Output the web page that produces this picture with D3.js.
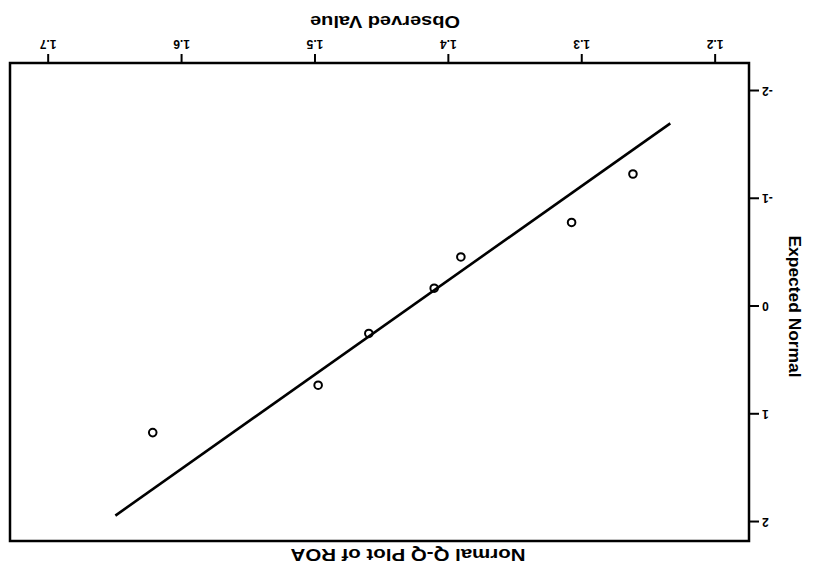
<!DOCTYPE html>
<meta charset="utf-8">
<style>
  body { margin: 0; background: #fff; }
  svg text { font-family: "Liberation Sans", Arial, sans-serif; font-weight: bold; fill: #000; }
</style>
<div id="chart"></div>
<script src="https://cdnjs.cloudflare.com/ajax/libs/d3/7.8.5/d3.min.js"></script>
<script>
var observed = [1.262, 1.308, 1.391, 1.411, 1.460, 1.498, 1.622];
var expected = [-1.23, -0.78, -0.46, -0.17, 0.25, 0.73, 1.17];
var lineObserved = [1.234, 1.650];
var lineExpected = [-1.70, 1.94];
var xTicks = [1.2, 1.3, 1.4, 1.5, 1.6, 1.7];
var yTicks = [-2, -1, 0, 1, 2];

var width = 818, height = 575;
var margin = {top: 34, right: 10, bottom: 63, left: 69};

var svg = d3.select("#chart").append("svg")
    .attr("width", width)
    .attr("height", height);

// the scan is upside down, so draw the normal chart and turn it 180 degrees
var g = svg.append("g")
    .attr("transform", "rotate(180," + width / 2 + "," + height / 2 + ")");

var x = d3.scaleLinear()
    .domain([1.175, 1.729])
    .range([margin.left, width - margin.right]);
var y = d3.scaleLinear()
    .domain([-2.26, 2.176])
    .range([height - margin.bottom, margin.top]);

var xAxis = g.append("g")
    .attr("transform", "translate(0," + (height - margin.bottom) + ")")
    .call(d3.axisBottom(x).tickValues(xTicks).tickSize(9).tickFormat(d3.format(".1f")));
var yAxis = g.append("g")
    .attr("transform", "translate(" + margin.left + ",0)")
    .call(d3.axisLeft(y).tickValues(yTicks).tickSize(10).tickFormat(function(d) { return String(d); }));

[xAxis, yAxis].forEach(function(a) {
  a.select(".domain").remove();
  a.selectAll("line").attr("stroke", "#000").attr("stroke-width", 2);
  a.selectAll("text").style("font-size", "12px");
});
xAxis.selectAll("text").attr("dy", "0.95em");
yAxis.selectAll("text").attr("x", -13);

// frame
g.append("rect")
    .attr("x", margin.left)
    .attr("y", margin.top)
    .attr("width", width - margin.left - margin.right)
    .attr("height", height - margin.top - margin.bottom)
    .attr("fill", "none")
    .attr("stroke", "#000")
    .attr("stroke-width", 2.5);

// reference line
g.append("line")
    .attr("x1", x(lineObserved[0])).attr("y1", y(lineExpected[0]))
    .attr("x2", x(lineObserved[1])).attr("y2", y(lineExpected[1]))
    .attr("stroke", "#000")
    .attr("stroke-width", 2.6);

g.selectAll(".pt")
    .data(observed)
    .enter().append("circle")
    .attr("class", "pt")
    .attr("cx", function(d) { return x(d); })
    .attr("cy", function(d, i) { return y(expected[i]); })
    .attr("r", 3.8)
    .attr("fill", "none")
    .attr("stroke", "#000")
    .attr("stroke-width", 2);

g.append("text")
    .attr("x", 410)
    .attr("y", 26)
    .attr("text-anchor", "middle")
    .attr("textLength", 235)
    .attr("lengthAdjust", "spacingAndGlyphs")
    .style("font-size", "17px")
    .text("Normal Q-Q Plot of ROA");

g.append("text")
    .attr("x", 433)
    .attr("y", 559)
    .attr("text-anchor", "middle")
    .attr("textLength", 150)
    .attr("lengthAdjust", "spacingAndGlyphs")
    .style("font-size", "17px")
    .text("Observed Value");

g.append("text")
    .attr("transform", "translate(29," + y(0) + ") rotate(-90)")
    .attr("text-anchor", "middle")
    .attr("textLength", 142)
    .attr("lengthAdjust", "spacingAndGlyphs")
    .style("font-size", "17px")
    .text("Expected Normal");
</script>
